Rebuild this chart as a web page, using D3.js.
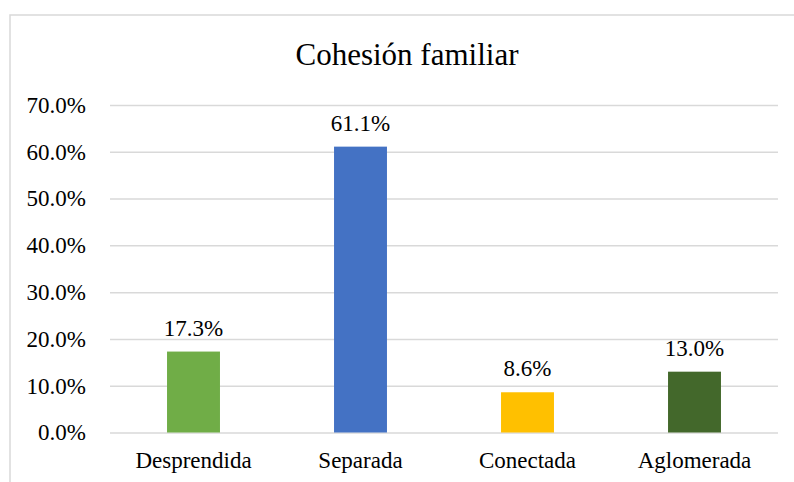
<!DOCTYPE html>
<html><head><meta charset="UTF-8">
  <title>Cohesión familiar</title>
  <script src="https://d3js.org/d3.v7.min.js"></script>
  <style>
    body { margin: 0; background: #fff; }
    text { font-family: "Liberation Serif", "Times New Roman", serif; fill: #000; }
  </style>
</head>
<body>
  <svg width="794" height="482"></svg>
  <script>
    const categories = ["Desprendida", "Separada", "Conectada", "Aglomerada"]
    const values = [0.173, 0.611, 0.086, 0.130]
    const barColors = ["#70AD47", "#4472C4", "#FFC000", "#43682B"]
    const yTicks = [0, 0.1, 0.2, 0.3, 0.4, 0.5, 0.6, 0.7]

    const data = categories.map((c, i) => ({category: c, value: values[i], color: barColors[i]}))

    const svg = d3.select("svg")

    // chart frame (runs off the right and bottom edges)
    svg.append("rect")
      .attr("x", 10).attr("y", 15)
      .attr("width", 800).attr("height", 500)
      .attr("fill", "none")
      .attr("stroke", "#d9d9d9")
      .attr("stroke-width", 1.5)

    const plot = {left: 110, right: 778, top: 105, bottom: 432.5}

    const x = d3.scaleBand()
      .domain(categories)
      .range([plot.left, plot.right])
      .paddingInner(0.683)
      .paddingOuter(0.683 / 2)

    const y = d3.scaleLinear()
      .domain([0, 0.7])
      .range([plot.bottom, plot.top])

    // y axis with gridlines
    const yAxis = svg.append("g")
      .attr("transform", "translate(" + plot.left + ",0)")
      .call(d3.axisLeft(y)
        .tickValues(yTicks)
        .tickFormat(d3.format(".1%"))
        .tickSize(-(plot.right - plot.left))
        .tickPadding(24))
    yAxis.select(".domain").remove()
    yAxis.selectAll("line").attr("stroke", "#d9d9d9").attr("stroke-width", 1.5)
    yAxis.selectAll("text").attr("font-size", 23).attr("fill", "#000")
      .style("font-family", "'Liberation Serif', serif")

    // x axis labels
    const xAxis = svg.append("g")
      .attr("transform", "translate(0," + plot.bottom + ")")
      .call(d3.axisBottom(x).tickSize(0).tickPadding(19))
    xAxis.select(".domain").remove()
    xAxis.selectAll("text").attr("font-size", 23).attr("fill", "#000")
      .style("font-family", "'Liberation Serif', serif")

    // bars
    svg.selectAll("rect.bar")
      .data(data)
      .join("rect")
        .attr("class", "bar")
        .attr("x", d => x(d.category))
        .attr("y", d => y(d.value))
        .attr("width", x.bandwidth())
        .attr("height", d => y(0) - y(d.value))
        .attr("fill", d => d.color)

    // data labels
    svg.selectAll("text.label")
      .data(data)
      .join("text")
        .attr("class", "label")
        .attr("x", d => x(d.category) + x.bandwidth() / 2)
        .attr("y", d => y(d.value) - 16)
        .attr("text-anchor", "middle")
        .attr("font-size", 23)
        .text(d => d3.format(".1%")(d.value))

    // title
    svg.append("text")
      .attr("x", 407)
      .attr("y", 65)
      .attr("text-anchor", "middle")
      .attr("font-size", 31)
      .text("Cohesión familiar")
  </script>
</body></html>
